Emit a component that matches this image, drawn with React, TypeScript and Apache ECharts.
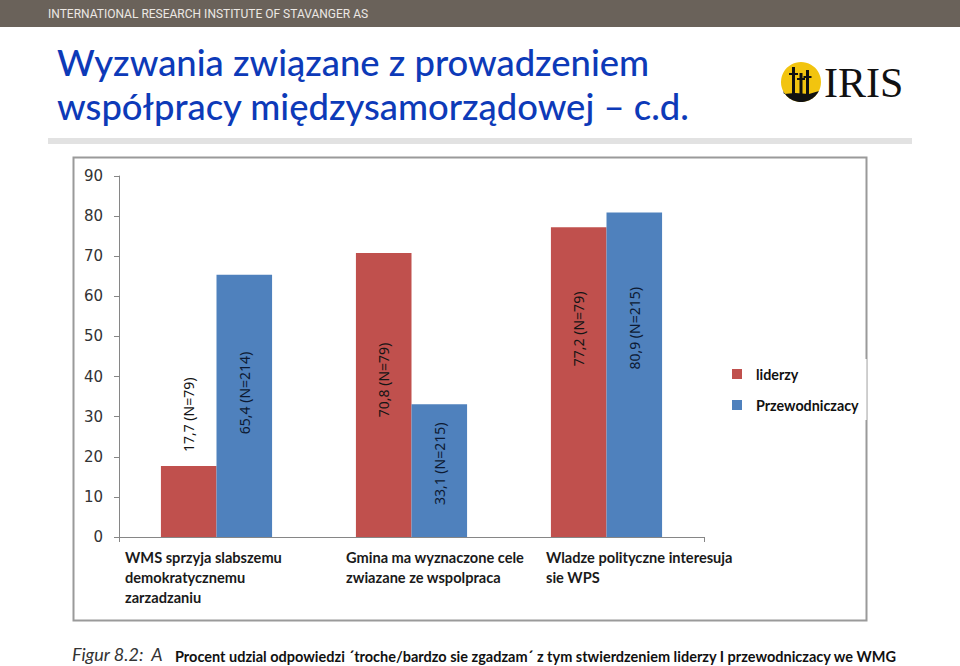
import React, { useEffect, useRef } from 'react';
import * as echarts from 'echarts';

// ---- data ----
const categoryLines: string[][] = [
  ['WMS sprzyja slabszemu', 'demokratycznemu', 'zarzadzaniu'],
  ['Gmina ma wyznaczone cele', 'zwiazane ze wspolpraca'],
  ['Wladze polityczne interesuja', 'sie WPS'],
];
const categories = categoryLines.map((l) => l.join(' '));
const seriesNames = ['liderzy', 'Przewodniczacy'];
const liderzyValues = [17.7, 70.8, 77.2];
const liderzyN = [79, 79, 79];
const przewValues = [65.4, 33.1, 80.9];
const przewN = [214, 215, 215];
const yMin = 0;
const yMax = 90;
const yInterval = 10;

// ---- styles ----
const RED = '#C0504D';
const BLUE = '#4F81BD';
const liderzyLabelPos = ['-72%', '44.7%', '32.8%'];
const przewLabelPos = ['45.1%', '44.9%', '35.7%'];
const catLabelLeft = [125, 346, 546];
const CAL = 'Lato, "Noto Sans", sans-serif';

const fmt = (v: number, n: number) => `${v.toFixed(1).replace('.', ',')} (N=${n})`;

function buildData(values: number[], ns: number[], pos: string[], color: string) {
  return values.map((v, i) => ({
    value: v,
    label: {
      show: true,
      position: ['50%', pos[i]],
      rotate: 90,
      align: 'center',
      verticalAlign: 'middle',
      formatter: () => fmt(v, ns[i]),
      color,
      fontFamily: '"Noto Sans", sans-serif',
      fontSize: 14,
    },
  }));
}

export default function App() {
  const ref = useRef<HTMLDivElement>(null);
  useEffect(() => {
    if (!ref.current) return;
    const chart = echarts.init(ref.current, null, { renderer: 'svg' });

    // logo bottom silhouette
    const cx = 801, cy = 82, r = 20;
    const seg: number[][] = [];
    for (let a = 25; a <= 155; a += 5) {
      const rad = (a * Math.PI) / 180;
      seg.push([cx + r * Math.cos(rad), cy + r * Math.sin(rad)]);
    }
    seg.push([cx - 17, cy + 12], [cx - 6, cy + 11], [cx + 8, cy + 12], [cx + 18, cy + 9]);

    const graphics: any[] = [
      { type: 'rect', shape: { x: 0, y: 0, width: 960, height: 27 }, style: { fill: '#6a625a' }, silent: true },
      { type: 'text', x: 48, y: 14, style: { text: 'INTERNATIONAL RESEARCH INSTITUTE OF STAVANGER AS', fill: '#ece8e4', font: '12px Roboto, sans-serif', textVerticalAlign: 'middle' } },
      { type: 'text', x: 57, y: 62, style: { text: 'Wyzwania związane z prowadzeniem', fill: '#0d3ab8', font: '500 36.4px ' + CAL, textVerticalAlign: 'middle' } },
      { type: 'text', x: 57, y: 106, style: { text: 'współpracy międzysamorządowej – c.d.', fill: '#0d3ab8', font: '500 36.4px ' + CAL, textVerticalAlign: 'middle' } },
      { type: 'rect', shape: { x: 48, y: 138, width: 864, height: 6 }, style: { fill: '#e2e2e2' } },
      // logo
      { type: 'circle', shape: { cx, cy, r }, style: { fill: '#f2c40f' } },
      { type: 'polygon', shape: { points: seg }, style: { fill: '#111' } },
      { type: 'rect', shape: { x: 792, y: 67, width: 3, height: 30 }, style: { fill: '#111' } },
      { type: 'rect', shape: { x: 789, y: 73, width: 9, height: 2 }, style: { fill: '#111' } },
      { type: 'rect', shape: { x: 799.5, y: 73, width: 3, height: 24 }, style: { fill: '#111' } },
      { type: 'rect', shape: { x: 797, y: 78, width: 8, height: 2 }, style: { fill: '#111' } },
      { type: 'rect', shape: { x: 806, y: 70, width: 3, height: 27 }, style: { fill: '#111' } },
      { type: 'rect', shape: { x: 803.5, y: 76, width: 8, height: 2 }, style: { fill: '#111' } },
      { type: 'text', x: 824, y: 83, style: { text: 'IRIS', fill: '#111', font: '42px "Liberation Serif", serif', textVerticalAlign: 'middle' } },
      // chart frame
      { type: 'rect', z: -1, shape: { x: 73.5, y: 157.5, width: 793, height: 463 }, style: { fill: '#fff', stroke: '#9a9a9a', lineWidth: 2 } },
      // footer
      { type: 'text', x: 72, y: 654, style: { text: 'Figur 8.2:  A', fill: '#333', font: 'italic 18px ' + CAL, textVerticalAlign: 'middle' } },
      { type: 'text', x: 175, y: 656, style: { text: 'Procent udzial odpowiedzi ´troche/bardzo sie zgadzam´ z tym stwierdzeniem liderzy I przewodniczacy we WMG', fill: '#111', font: 'bold 14.5px ' + CAL, textVerticalAlign: 'middle' } },
    ];
    categoryLines.forEach((lines, ci) => {
      lines.forEach((t, li) => {
        graphics.push({ type: 'text', x: catLabelLeft[ci], y: 557 + li * 20, style: { text: t, fill: '#1a1a1a', font: 'bold 14.6px ' + CAL, textVerticalAlign: 'middle' } });
      });
    });

    chart.setOption({
      animation: false,
      backgroundColor: '#fff',
      graphic: graphics,
      legend: {
        data: seriesNames,
        orient: 'vertical',
        left: 728,
        top: 359,
        itemWidth: 10,
        itemHeight: 10,
        itemGap: 15,
        icon: 'rect',
        backgroundColor: '#fff',
        padding: [7, 8, 7, 4],
        textStyle: { fontFamily: CAL, fontWeight: 'bold', fontSize: 14.3, color: '#111', lineHeight: 16, padding: [0, 0, 0, 9] },
        z: 10,
      },
      grid: { left: 119, top: 176, width: 585, height: 361, containLabel: false },
      xAxis: {
        type: 'category',
        data: categories,
        axisLine: { lineStyle: { color: '#868686', width: 1 } },
        axisTick: { show: true, length: 5, lineStyle: { color: '#868686' } },
        axisLabel: { show: false },
      },
      yAxis: {
        type: 'value',
        min: yMin,
        max: yMax,
        interval: yInterval,
        axisLine: { show: true, lineStyle: { color: '#868686', width: 1 } },
        axisTick: { show: true, length: 5, lineStyle: { color: '#868686' } },
        splitLine: { show: false },
        axisLabel: { margin: 16, fontFamily: '"DejaVu Sans", sans-serif', fontSize: 15, color: '#333' },
      },
      series: [
        {
          name: seriesNames[0],
          type: 'bar',
          barGap: '0%',
          barCategoryGap: '43%',
          itemStyle: { color: RED },
          data: buildData(liderzyValues, liderzyN, liderzyLabelPos, '#151515'),
        },
        {
          name: seriesNames[1],
          type: 'bar',
          barGap: '0%',
          barCategoryGap: '43%',
          itemStyle: { color: BLUE },
          data: buildData(przewValues, przewN, przewLabelPos, '#0d1a33'),
        },
      ],
    });
    return () => chart.dispose();
  }, []);
  return <div ref={ref} style={{ position: 'fixed', left: 0, top: 0, width: 960, height: 666 }} />;
}
